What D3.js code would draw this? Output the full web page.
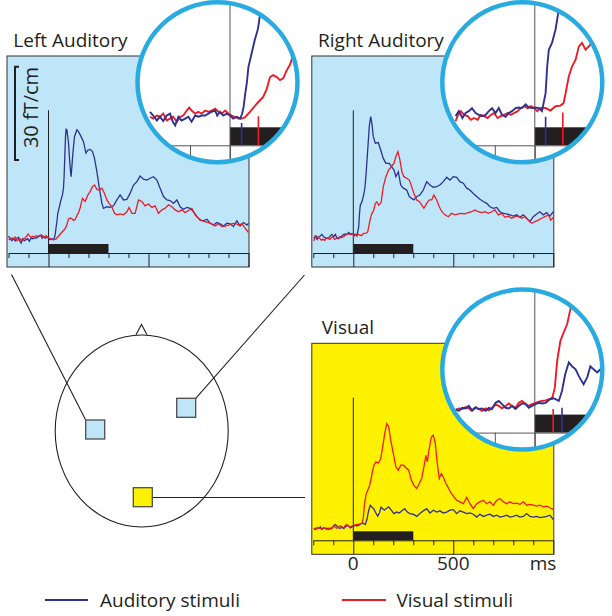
<!DOCTYPE html>
<html><head><meta charset="utf-8">
<script src="https://cdn.jsdelivr.net/npm/d3@7"></script>
<style>html,body{margin:0;padding:0;background:#fff;} svg{display:block;font-family:"Open Sans",sans-serif;}</style>
</head><body><svg id="c" width="612" height="616"></svg>
<script>
// ---------- data ----------
const panelNames = ["Left Auditory", "Right Auditory", "Visual"];
const seriesNames = ["Auditory stimuli", "Visual stimuli"];
const tickMs = [-200,-100,0,100,200,300,400,500,600,700,800,900,1000];
const majorTickMs = [0, 500, 1000];
const tickLabelMs = [0, 500, 1000];
const tickLabels = ["0", "500", "ms"];
const stimulusMs = [0, 300];
const scaleBarValues = [30, 60];
const scaleBarLabel = "30 fT/cm";
// onset latency markers (ms) and marker heights (fT/cm)
const audLatencyMs = [29, 27, 68];
const visLatencyMs = [71, 70, 46];
const audMarkerTop = [3.6, 4.6, 4.0];
const visMarkerTop = [4.7, 5.3, 3.8];

// [ms, fT/cm]
const leftAud = [[-200,5.4],[-192,4.8],[-183,4.0],[-175,4.6],[-167,3.9],[-158,4.8],[-150,5.1],[-143,3.8],[-137,3.2],[-129,4.6],[-121,4.0],[-112,4.3],[-104,4.6],[-96,3.8],[-87,4.8],[-79,4.6],[-71,4.8],[-62,4.8],[-54,5.1],[-46,5.4],[-37,5.6],[-32,4.8],[-25,5.4],[-17,4.8],[-8,5.1],[0,4.8],[8,4.3],[17,4.6],[25,4.3],[30,5.0],[34,6.2],[38,8.3],[42,10.0],[46,12.6],[54,14.8],[62,17.0],[70,18.8],[75,21.0],[78,24.6],[82,32.0],[85,37.5],[88,39.9],[92,39.7],[100,35.4],[108,27.8],[113,24.6],[122,32.2],[130,37.5],[142,39.7],[150,39.1],[163,37.5],[175,35.9],[187,32.2],[197,33.2],[208,33.4],[220,32.7],[230,30.5],[242,26.2],[253,21.4],[267,16.0],[275,14.4],[292,14.9],[308,14.7],[325,15.2],[342,17.1],[358,18.7],[375,17.1],[392,17.3],[408,19.2],[425,21.9],[442,23.0],[458,24.8],[475,23.8],[492,23.5],[508,24.1],[525,24.6],[542,23.5],[558,20.9],[575,18.2],[592,17.1],[608,16.9],[625,16.0],[642,17.1],[658,14.9],[675,14.1],[692,14.7],[708,14.4],[725,13.3],[742,11.7],[758,10.6],[775,10.4],[792,10.9],[808,9.6],[825,9.0],[842,9.8],[858,9.4],[875,8.7],[892,9.6],[908,9.4],[925,8.5],[942,10.4],[958,8.7],[975,9.8],[992,9.0],[1000,9.6]];
const leftVis = [[-200,4.6],[-192,4.3],[-183,4.8],[-175,4.6],[-167,5.1],[-158,4.0],[-150,4.3],[-142,4.6],[-133,3.8],[-125,4.6],[-117,4.8],[-108,5.6],[-102,6.1],[-96,5.6],[-87,5.1],[-79,5.4],[-71,5.1],[-62,5.6],[-54,5.4],[-46,5.6],[-37,5.9],[-29,5.4],[-21,5.1],[-12,5.6],[-4,5.1],[4,4.8],[12,4.6],[21,4.3],[29,4.3],[37,4.5],[50,5.4],[67,6.7],[83,7.8],[92,9.1],[100,11.0],[108,11.3],[117,11.0],[125,10.5],[133,10.8],[142,12.1],[150,13.0],[158,14.5],[170,17.6],[183,16.6],[197,18.7],[208,19.8],[220,21.4],[230,21.9],[242,20.5],[253,20.3],[267,20.9],[280,19.2],[292,17.1],[303,16.0],[317,14.9],[330,12.8],[342,12.3],[358,12.6],[375,12.3],[392,13.3],[403,14.7],[417,12.8],[433,12.8],[450,17.1],[467,16.6],[483,15.2],[500,15.8],[517,14.7],[533,15.2],[550,12.8],[567,13.9],[583,14.4],[600,15.5],[617,14.9],[633,13.9],[650,13.3],[667,13.9],[683,13.0],[700,13.7],[717,14.4],[733,12.3],[750,11.2],[767,10.4],[783,10.1],[800,9.8],[817,9.4],[833,8.7],[850,9.4],[867,8.5],[883,8.7],[900,9.0],[917,9.4],[933,9.6],[950,9.0],[967,9.4],[983,8.0],[1000,6.6]];
const rightAud = [[-198,4.7],[-190,5.5],[-181,4.4],[-173,5.2],[-165,5.5],[-157,6.0],[-148,5.2],[-140,4.9],[-132,4.7],[-123,4.9],[-115,5.5],[-107,6.0],[-98,5.2],[-90,6.0],[-82,4.9],[-73,4.6],[-65,5.2],[-57,5.5],[-48,6.0],[-40,6.1],[-32,6.0],[-23,6.6],[-15,6.1],[-7,6.0],[2,6.1],[10,6.0],[18,5.5],[27,8.4],[31,12.7],[35,15.4],[43,16.5],[52,18.7],[58,21.1],[63,24.6],[72,33.2],[80,40.8],[87,44.0],[93,41.8],[100,37.5],[110,35.4],[125,35.6],[137,33.2],[150,30.5],[163,28.9],[180,28.9],[192,27.8],[203,26.8],[213,24.6],[225,26.2],[237,21.9],[250,20.9],[267,20.3],[280,18.2],[292,17.6],[303,17.1],[317,18.2],[333,18.7],[350,20.3],[367,23.0],[383,21.9],[400,21.2],[417,21.4],[433,21.9],[450,23.0],[467,24.4],[483,23.5],[500,24.6],[517,24.4],[533,23.0],[550,22.5],[567,20.9],[583,20.3],[600,19.2],[617,18.2],[633,17.3],[650,16.6],[667,16.0],[683,14.9],[700,14.4],[717,14.7],[733,13.3],[750,12.8],[767,12.6],[783,12.3],[800,11.9],[817,12.3],[833,11.5],[850,12.3],[867,11.2],[883,10.1],[900,11.7],[917,12.6],[933,13.3],[950,12.3],[967,13.0],[983,11.9],[1000,13.3]];
const rightVis = [[-198,3.9],[-190,5.2],[-185,5.5],[-177,4.9],[-168,4.7],[-160,4.1],[-152,4.4],[-143,4.1],[-135,4.9],[-127,4.7],[-118,4.4],[-110,4.9],[-102,5.2],[-93,4.4],[-85,4.7],[-77,4.9],[-68,5.2],[-60,4.9],[-52,5.2],[-43,5.5],[-35,6.0],[-27,6.3],[-18,6.0],[-10,6.3],[-2,6.0],[6,5.5],[14,6.0],[27,6.0],[39,5.6],[52,6.3],[64,6.4],[72,6.8],[77,8.4],[85,11.1],[93,12.7],[102,13.8],[110,15.9],[118,16.5],[127,15.4],[139,16.2],[150,21.4],[163,24.6],[177,26.8],[190,27.8],[203,28.9],[213,31.1],[223,32.7],[233,30.0],[243,26.2],[253,24.6],[267,24.1],[280,23.5],[292,21.4],[303,19.2],[317,17.1],[330,16.6],[342,15.5],[353,14.4],[367,16.0],[380,17.1],[392,17.1],[403,18.7],[417,17.1],[430,14.9],[443,13.3],[458,12.3],[475,11.7],[492,12.8],[508,12.3],[525,12.6],[542,12.8],[558,12.6],[575,13.0],[592,13.3],[608,13.9],[625,13.3],[642,13.0],[658,13.3],[675,12.8],[692,13.3],[708,13.9],[725,12.3],[742,12.8],[758,11.5],[775,11.9],[792,11.2],[808,11.7],[825,11.9],[842,11.2],[858,11.7],[875,10.6],[892,9.6],[908,10.1],[925,10.6],[942,11.2],[958,11.7],[975,12.3],[987,10.6],[1000,11.5]];
const visualAud = [[-198,3.8],[-190,3.5],[-181,4.0],[-173,3.9],[-165,4.3],[-157,3.6],[-148,4.1],[-140,3.8],[-132,3.9],[-123,3.5],[-115,4.0],[-107,3.8],[-98,4.8],[-90,5.1],[-82,4.6],[-73,4.0],[-65,3.9],[-57,4.3],[-48,3.8],[-40,4.3],[-32,4.7],[-23,4.6],[-15,4.0],[-7,4.3],[2,4.6],[10,4.8],[18,4.7],[27,4.8],[35,5.2],[43,5.6],[52,5.4],[60,5.1],[68,6.7],[76,9.4],[85,11.3],[93,10.7],[102,10.2],[110,9.1],[122,7.8],[131,8.9],[139,10.7],[147,10.2],[156,9.7],[164,10.2],[177,10.8],[190,9.7],[203,8.6],[217,9.1],[230,8.8],[243,9.5],[257,10.2],[270,9.1],[283,8.6],[300,8.4],[317,7.7],[333,8.6],[350,9.5],[367,10.2],[383,8.8],[400,9.7],[417,9.1],[433,9.5],[450,8.8],[467,9.1],[483,9.7],[500,9.9],[517,8.6],[533,9.5],[550,9.1],[567,8.6],[583,8.8],[600,8.4],[617,7.5],[633,8.4],[650,7.7],[667,8.1],[683,8.4],[700,7.7],[717,8.1],[733,7.5],[750,7.7],[767,8.1],[783,7.5],[800,7.7],[817,8.1],[833,7.5],[850,7.7],[867,8.6],[883,7.7],[900,7.5],[917,7.7],[933,7.3],[950,7.5],[967,7.7],[983,8.1],[1000,6.7]];
const visualVis = [[-198,3.6],[-190,3.9],[-181,3.8],[-173,4.1],[-165,3.9],[-157,3.5],[-148,4.0],[-140,3.8],[-132,3.5],[-123,3.9],[-115,3.6],[-107,4.0],[-98,4.5],[-90,4.3],[-82,3.9],[-73,4.3],[-65,4.7],[-57,4.3],[-48,4.0],[-40,4.8],[-32,5.1],[-23,4.6],[-15,4.3],[-7,4.6],[2,4.8],[10,5.0],[18,5.1],[27,5.2],[35,5.4],[43,5.4],[50,7.2],[56,11.6],[64,14.8],[72,16.1],[81,17.5],[89,19.9],[97,22.5],[103,24.2],[113,25.3],[125,24.9],[137,26.3],[147,30.1],[157,34.4],[167,37.6],[177,36.6],[187,32.3],[200,28.0],[213,23.7],[225,22.6],[237,24.2],[250,24.2],[263,23.4],[277,22.6],[290,19.4],[303,17.7],[317,16.7],[330,18.3],[342,19.9],[353,23.7],[363,27.4],[370,25.3],[380,29.6],[390,33.3],[400,33.9],[410,31.2],[420,24.7],[430,19.9],[440,21.5],[450,20.4],[463,18.3],[477,16.7],[490,15.1],[503,14.0],[517,12.9],[533,12.4],[550,11.8],[567,13.8],[583,11.8],[600,10.2],[617,11.8],[633,12.4],[650,12.9],[667,11.8],[683,12.4],[700,11.3],[717,12.9],[733,13.4],[750,12.4],[767,11.8],[783,12.4],[800,11.8],[817,12.0],[833,11.6],[850,12.4],[867,11.3],[883,11.6],[900,11.3],[917,11.0],[933,11.3],[950,10.8],[967,11.0],[983,10.5],[1000,9.9]];

// ---------- styles / layout ----------
const AUD = "#2e3192", VIS = "#ed1c24", INK = "#231f20";
const BLUEBG = "#bfe6f8", YELLOW = "#fff200", RING = "#29abe2";
const panels = [
  {x:7,     y:56,    fill:BLUEBG, aud:leftAud,   vis:leftVis,   scaleBar:true,  labels:false},
  {x:311.8, y:56,    fill:BLUEBG, aud:rightAud,  vis:rightVis,  scaleBar:false, labels:false},
  {x:311.8, y:343.3, fill:YELLOW, aud:visualAud, vis:visualVis, scaleBar:false, labels:true}
];
const W = 242, H = 211, AX = 197;

const svg = d3.select("#c");

// ---------- head diagram ----------
const head = svg.append("g");
head.append("line").attr("x1",85.7).attr("y1",420).attr("x2",11.5).attr("y2",274.5).attr("stroke",INK).attr("stroke-width",1.1);
head.append("line").attr("x1",195.7).attr("y1",398.3).attr("x2",304.5).attr("y2",275).attr("stroke",INK).attr("stroke-width",1.1);
head.append("line").attr("x1",152.7).attr("y1",497.5).attr("x2",305).attr("y2",497.5).attr("stroke",INK).attr("stroke-width",1.1);
head.append("ellipse").attr("cx",141.7).attr("cy",431).attr("rx",86.5).attr("ry",96).attr("fill","none").attr("stroke",INK).attr("stroke-width",1.1);
head.append("polyline").attr("points","136,334.8 141.5,324.5 147,334.8").attr("fill","none").attr("stroke",INK).attr("stroke-width",1.1);
[[85.7,420,BLUEBG],[176.7,398.3,BLUEBG],[133.3,487.7,YELLOW]].forEach(s=>{
  head.append("rect").attr("x",s[0]).attr("y",s[1]).attr("width",19).attr("height",19).attr("fill",s[2]).attr("stroke","#4d4d4d").attr("stroke-width",1.3);
});

// ---------- panels ----------
panels.forEach((p, i) => {
  const g = svg.append("g");
  const x = d3.scaleLinear().domain([-200, 1000]).range([p.x + 1.5, p.x + 241.5]);
  const y = d3.scaleLinear().domain([0, 63.5]).range([p.y + AX, p.y]);
  g.append("rect").attr("x",p.x).attr("y",p.y).attr("width",W).attr("height",H)
    .attr("fill",p.fill).attr("stroke","#333").attr("stroke-width",1);
  g.append("text").attr("x",p.x + (i===2?10:6.3)).attr("y",p.y - 9).attr("font-size",19).attr("fill",INK).text(panelNames[i]);
  // stimulus bar
  g.append("rect").attr("x",x(stimulusMs[0])).attr("width",x(stimulusMs[1])-x(stimulusMs[0]))
    .attr("y",y(2.9)).attr("height",y(0)-y(2.9)).attr("fill",INK);
  // axis
  const ax = d3.axisBottom(x).tickValues(tickMs).tickSize(5).tickSizeOuter(0).tickFormat("");
  const ag = g.append("g").attr("transform",`translate(0,${y(0)})`).call(ax);
  ag.select(".domain").attr("stroke",INK);
  ag.selectAll(".tick line").attr("stroke",INK).attr("y2", d => majorTickMs.includes(d) ? (H-AX) : 5);
  // zero line
  g.append("line").attr("x1",x(0)).attr("x2",x(0)).attr("y1",y(46)).attr("y2",y(0)).attr("stroke",INK).attr("stroke-width",1);
  // traces
  const line = d3.line().x(d=>x(d[0])).y(d=>y(d[1]));
  g.append("path").datum(p.aud).attr("d",line).attr("fill","none").attr("stroke",AUD).attr("stroke-width",1.3);
  g.append("path").datum(p.vis).attr("d",line).attr("fill","none").attr("stroke",VIS).attr("stroke-width",1.3);
  // scale bar
  if (p.scaleBar) {
    const sx = p.x + 8;
    g.append("path").attr("d",
      `M${sx+4},${y(scaleBarValues[1])}H${sx}V${y(scaleBarValues[0])}H${sx+4}`)
      .attr("fill","none").attr("stroke",INK).attr("stroke-width",2);
    g.append("text").attr("transform",`translate(${p.x+31},${y(scaleBarValues[1])}) rotate(-90)`)
      .attr("text-anchor","end").attr("font-size",20).attr("fill",INK).text(scaleBarLabel);
  }
  // tick labels
  if (p.labels) {
    tickLabelMs.forEach((t, k) => {
      const isUnit = tickLabels[k] === "ms";
      g.append("text").attr("x", isUnit ? x(t)+3 : x(t)).attr("y", p.y + H + 16)
        .attr("text-anchor", isUnit ? "end" : "middle").attr("font-size",19).attr("fill",INK).text(tickLabels[k]);
    });
  }
  // ---------- magnified inset ----------
  const zx = x(0) + 181.5, zy = y(0) - 107.7;
  const xi = d3.scaleLinear().domain(x.domain()).range(x.range().map(v => zx + 2*(v - x(0))));
  const yi = d3.scaleLinear().domain(y.domain()).range(y.range().map(v => zy + 2*(v - y(0))));
  const cx = zx - 12.5, cy = zy - 63, r = 80;
  svg.append("clipPath").attr("id","clip"+i).append("circle").attr("cx",cx).attr("cy",cy).attr("r",r);
  const ig = svg.append("g");
  ig.append("circle").attr("cx",cx).attr("cy",cy).attr("r",r).attr("fill","#fff");
  const gc = ig.append("g").attr("clip-path",`url(#clip${i})`);
  gc.append("rect").attr("x",xi(stimulusMs[0])).attr("width",xi(stimulusMs[1])-xi(stimulusMs[0]))
    .attr("y",yi(2.9)).attr("height",yi(0)-yi(2.9)).attr("fill",INK);
  const iax = d3.axisBottom(xi).tickValues(tickMs).tickSize(10).tickSizeOuter(0).tickFormat("");
  const iag = gc.append("g").attr("transform",`translate(0,${yi(0)})`).call(iax);
  iag.select(".domain").attr("stroke","#555");
  iag.selectAll(".tick line").attr("stroke","#555").attr("y2", d => majorTickMs.includes(d) ? 2*(H-AX) : 11);
  gc.append("line").attr("x1",xi(0)).attr("x2",xi(0)).attr("y1",cy-r).attr("y2",cy+r).attr("stroke","#555").attr("stroke-width",1);
  gc.append("line").attr("x1",xi(audLatencyMs[i])).attr("x2",xi(audLatencyMs[i])).attr("y1",yi(0)).attr("y2",yi(audMarkerTop[i])).attr("stroke",AUD).attr("stroke-width",1.6);
  gc.append("line").attr("x1",xi(visLatencyMs[i])).attr("x2",xi(visLatencyMs[i])).attr("y1",yi(0)).attr("y2",yi(visMarkerTop[i])).attr("stroke",VIS).attr("stroke-width",1.6);
  const iline = d3.line().x(d=>xi(d[0])).y(d=>yi(d[1]));
  [[p.vis,VIS],[p.aud,AUD]].forEach(o => gc.append("path").datum(o[0]).attr("d",iline).attr("fill","none").attr("stroke",o[1]).attr("stroke-width",1.9));
  ig.append("circle").attr("cx",cx).attr("cy",cy).attr("r",r).attr("fill","none").attr("stroke",RING).attr("stroke-width",4.5);
});

// ---------- legend ----------
const lg = svg.append("g");
[[45,88,100,AUD],[342,386,396.5,VIS]].forEach((l, k) => {
  lg.append("line").attr("x1",l[0]).attr("x2",l[1]).attr("y1",600).attr("y2",600).attr("stroke",l[3]).attr("stroke-width",2);
  lg.append("text").attr("x",l[2]).attr("y",607).attr("font-size",19).attr("fill",INK).text(seriesNames[k]);
});
</script></body></html>
